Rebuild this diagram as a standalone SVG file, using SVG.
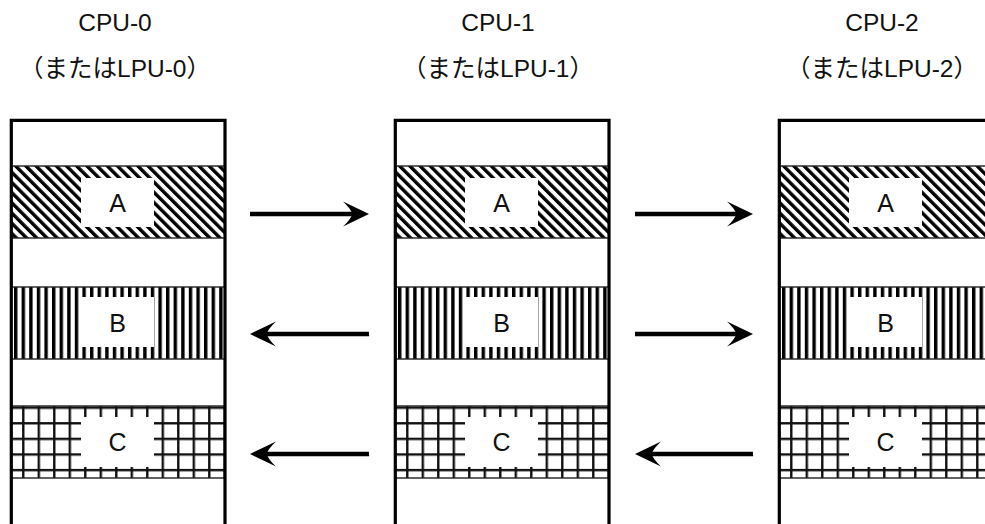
<svg xmlns="http://www.w3.org/2000/svg" width="985" height="524" viewBox="0 0 985 524">
  <style>
    .frame { fill: none; stroke: #000; stroke-width: 3.2; }
    .band { stroke: #222; stroke-width: 1.4; }
    .lbl { fill: #fff; stroke: none; }
    .head { font-family: "Liberation Sans", "Noto Sans CJK JP", sans-serif; font-size: 24.5px; fill: #111; text-anchor: middle; }
    .letter { font-family: "Liberation Sans", sans-serif; font-size: 25px; fill: #111; text-anchor: middle; }
    .arrow { stroke: #000; stroke-width: 4.5; fill: none; marker-end: url(#ah); }
  </style>
  <defs>
    <pattern id="diag" patternUnits="userSpaceOnUse" width="7.2" height="10" patternTransform="rotate(-45)">
      <rect x="0" y="0" width="3.4" height="10" fill="#000"/>
    </pattern>
    <pattern id="vert" patternUnits="userSpaceOnUse" x="14" y="0" width="7.6" height="10">
      <rect x="0" y="0" width="3.4" height="10" fill="#000"/>
    </pattern>
    <pattern id="grid" patternUnits="userSpaceOnUse" x="22.1" y="422.1" width="15.5" height="15.6">
      <rect x="0" y="0" width="2.4" height="15.6" fill="#111"/>
      <rect x="0" y="0" width="15.5" height="2.4" fill="#111"/>
    </pattern>
    <marker id="ah" markerUnits="userSpaceOnUse" viewBox="0 0 26 26" markerWidth="26" markerHeight="26" refX="12" refY="13" orient="auto">
      <path d="M26,13 L0,0.5 Q9,9 9,13 Q9,17 0,25.5 Z" fill="#000"/>
    </marker>
  </defs>

  <g id="cpu0">
    <text class="head" x="115" y="31">CPU-0</text>
    <text class="head" x="115" y="77">（またはLPU-0）</text>
    <rect class="band" x="11.3" y="166" width="213.7" height="72" fill="url(#diag)"/>
    <rect class="band" x="11.3" y="287" width="213.7" height="72" fill="url(#vert)"/>
    <rect class="band" x="11.3" y="406" width="213.7" height="72" fill="url(#grid)"/>
    <rect class="lbl" x="81" y="178" width="73" height="49"/>
    <rect class="lbl" x="81" y="297" width="73" height="50"/>
    <rect class="lbl" x="81" y="417" width="73" height="50"/>
    <text class="letter" x="117.5" y="212">A</text>
    <text class="letter" x="117.5" y="332">B</text>
    <text class="letter" x="117.5" y="451">C</text>
    <path class="frame" d="M11.3,526 V120.3 H225 V526"/>
  </g>

  <g id="cpu1" transform="translate(384,0)">
    <text class="head" x="114" y="31">CPU-1</text>
    <text class="head" x="114" y="77">（またはLPU-1）</text>
    <rect class="band" x="11.3" y="166" width="213.7" height="72" fill="url(#diag)"/>
    <rect class="band" x="11.3" y="287" width="213.7" height="72" fill="url(#vert)"/>
    <rect class="band" x="11.3" y="406" width="213.7" height="72" fill="url(#grid)"/>
    <rect class="lbl" x="81" y="178" width="73" height="49"/>
    <rect class="lbl" x="81" y="297" width="73" height="50"/>
    <rect class="lbl" x="81" y="417" width="73" height="50"/>
    <text class="letter" x="117.5" y="212">A</text>
    <text class="letter" x="117.5" y="332">B</text>
    <text class="letter" x="117.5" y="451">C</text>
    <path class="frame" d="M11.3,526 V120.3 H225 V526"/>
  </g>

  <g id="cpu2" transform="translate(768,0)">
    <text class="head" x="114" y="31">CPU-2</text>
    <text class="head" x="114" y="77">（またはLPU-2）</text>
    <rect class="band" x="11.3" y="166" width="213.7" height="72" fill="url(#diag)"/>
    <rect class="band" x="11.3" y="287" width="213.7" height="72" fill="url(#vert)"/>
    <rect class="band" x="11.3" y="406" width="213.7" height="72" fill="url(#grid)"/>
    <rect class="lbl" x="81" y="178" width="73" height="49"/>
    <rect class="lbl" x="81" y="297" width="73" height="50"/>
    <rect class="lbl" x="81" y="417" width="73" height="50"/>
    <text class="letter" x="117.5" y="212">A</text>
    <text class="letter" x="117.5" y="332">B</text>
    <text class="letter" x="117.5" y="451">C</text>
    <path class="frame" d="M11.3,526 V120.3 H225 V526"/>
  </g>

  <g id="connectors">
    <line class="arrow" x1="250" y1="214" x2="355" y2="214"/>
    <line class="arrow" x1="635" y1="214" x2="739" y2="214"/>
    <line class="arrow" x1="369" y1="334" x2="264" y2="334"/>
    <line class="arrow" x1="635" y1="334" x2="739" y2="334"/>
    <line class="arrow" x1="369" y1="454" x2="264" y2="454"/>
    <line class="arrow" x1="753" y1="454" x2="649" y2="454"/>
  </g>
</svg>
